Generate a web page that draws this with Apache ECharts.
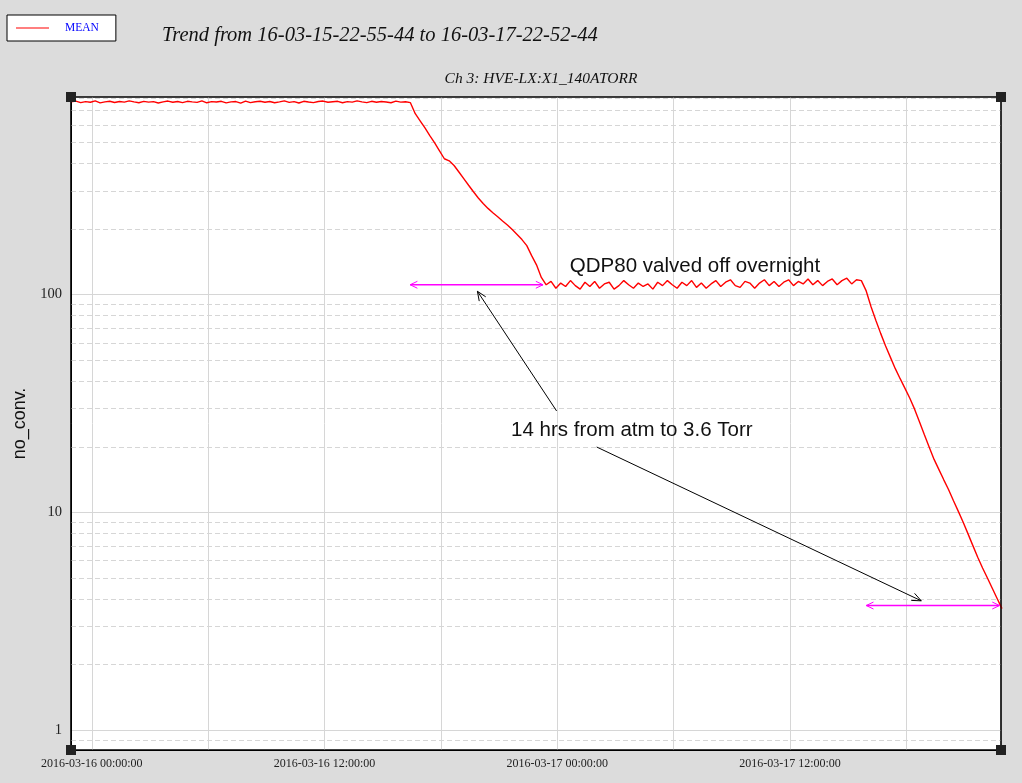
<!DOCTYPE html>
<html><head><meta charset="utf-8">
<script src="https://cdn.jsdelivr.net/npm/echarts@6/dist/echarts.min.js"></script>
<style>html,body{margin:0;padding:0;background:#dcdcdc;} #chart{width:1022px;height:783px;}</style>
</head><body><div id="chart"></div>
<script>
const titleText = 'Trend from 16-03-15-22-55-44 to 16-03-17-22-52-44';
const subtitleText = 'Ch 3: HVE-LX:X1_140ATORR';
const seriesName = 'MEAN';
const yAxisName = 'no_conv.';
const axisStart = '2016-03-15 22:55:44';
const axisEnd = '2016-03-17 22:52:44';
const sampleStart = '2016-03-15 22:55:44';
const sampleStepMinutes = 15;

// vented (atmosphere) segment
const ventedValues = [
  768, 774, 762, 770, 765, 776, 760, 768, 773, 763,
  771, 766, 777, 768, 761, 772, 766, 770, 759, 768,
  775, 765, 771, 762, 773, 768, 764, 776, 761, 770,
  767, 773, 760, 768, 771, 758, 775, 762, 769, 773,
  765, 771, 761, 768, 776, 764, 770, 759, 773, 767,
  762, 771, 775, 765, 769, 773, 761, 770, 766, 776,
  768, 762, 773, 765, 771, 767, 761, 774, 766, 769
];
// first pump-down
const pumpdownValues = [
  762, 678, 629, 583, 538, 498, 458, 421, 412, 392,
  366, 341, 318, 297, 278, 262, 249, 238, 228, 218,
  209, 199, 189, 179, 168, 151, 137, 120
];
// QDP80 valved off overnight
const valvedOffValues = [
  111, 115, 107, 113, 109, 116, 110, 106, 114, 109,
  115, 107, 112, 114, 106, 110, 116, 111, 107, 113,
  109, 112, 106, 114, 110, 116, 111, 107, 114, 110,
  116, 108, 113, 107, 112, 116, 109, 114, 117, 110,
  108, 115, 113, 107, 113, 117, 110, 115, 109, 114,
  117, 110, 115, 112, 118, 111, 116, 110, 115, 118,
  111, 116, 119, 112, 117, 116
];
// second pump-down
const secondPumpValues = [
  104, 88, 76, 66.2, 58.1, 51.5, 45.7, 41.1, 37.1, 33.4,
  29.7, 26.0, 22.7, 19.9, 17.5, 15.7, 14.1, 12.7, 11.3, 10.1,
  9.0, 7.96, 7.03, 6.21, 5.55, 4.99, 4.48, 4.02, 3.61
];

const yMin = 0.809, yMax = 809;
const yTickLabels = ['1', '10', '100'];
const minorGridValues = [0.9, 2, 3, 4, 5, 6, 7, 8, 9, 20, 30, 40, 50, 60, 70, 80, 90, 200, 300, 400, 500, 600, 700, 800];
const dashedGridTimes = ['2016-03-16 06:00:00', '2016-03-16 18:00:00', '2016-03-17 06:00:00', '2016-03-17 18:00:00'];

const annotationTexts = [
  { text: 'QDP80 valved off overnight', at: ['2016-03-17 00:39:00', 135.2] },
  { text: '14 hrs from atm to 3.6 Torr', at: ['2016-03-16 21:37:00', 23.7] }
];
const spanArrows = [
  { from: ['2016-03-16 16:25:00', 111], to: ['2016-03-16 23:16:00', 111] },
  { from: ['2016-03-17 15:56:00', 3.73], to: ['2016-03-17 22:48:00', 3.73] }
];
const pointerArrows = [
  { from: ['2016-03-16 23:58:00', 29.2], to: ['2016-03-16 19:53:00', 103.6] },
  { from: ['2016-03-17 02:02:00', 19.95], to: ['2016-03-17 18:46:00', 3.92] }
];

function t(s) { return new Date(s.replace(' ', 'T')).getTime(); }
function pad(n) { return String(n).padStart(2, '0'); }
function fmtTime(v) {
  const d = new Date(v);
  return d.getFullYear() + '-' + pad(d.getMonth() + 1) + '-' + pad(d.getDate()) + ' ' +
    pad(d.getHours()) + ':' + pad(d.getMinutes()) + ':' + pad(d.getSeconds());
}

const allValues = ventedValues.concat(pumpdownValues, valvedOffValues, secondPumpValues);
const t0 = t(sampleStart);
const seriesData = allValues.map((v, i) => [t0 + i * sampleStepMinutes * 60000, v]);

const gridColor = '#d6d6d6';
const chart = echarts.init(document.getElementById('chart'), null, { renderer: 'canvas' });

const markLineData = minorGridValues.map(v => ({ yAxis: v }))
  .concat(dashedGridTimes.map(s => ({ xAxis: t(s) })));

chart.setOption({
  animation: false,
  backgroundColor: '#dcdcdc',
  title: [
    { text: titleText, left: 157, top: 21,
      textStyle: { fontFamily: 'Liberation Serif', fontStyle: 'italic', fontWeight: 'normal', fontSize: 20.5, color: '#111' } },
    { text: subtitleText, left: 536, top: 66, textAlign: 'center',
      textStyle: { fontFamily: 'Liberation Serif', fontStyle: 'italic', fontWeight: 'normal', fontSize: 15.5, color: '#111' } }
  ],
  legend: {
    left: 7, top: 15, padding: [7, 17, 7, 9], itemWidth: 33, itemHeight: 1, icon: 'rect',
    borderColor: '#000', borderWidth: 1, backgroundColor: '#fff', selectedMode: false,
    data: [seriesName],
    textStyle: { color: '#0000ff', fontFamily: 'Liberation Serif', fontSize: 11.5, padding: [0, 0, 0, 11] }
  },
  grid: { left: 71, right: 21, top: 97, bottom: 33, show: true, backgroundColor: '#fff', borderColor: '#000', borderWidth: 1 },
  xAxis: {
    type: 'time', min: t(axisStart), max: t(axisEnd),
    minInterval: 12 * 3600 * 1000, maxInterval: 12 * 3600 * 1000,
    axisLine: { show: true, lineStyle: { color: '#000', width: 1 } },
    axisTick: { show: false },
    splitLine: { show: true, showMinLine: false, showMaxLine: false, lineStyle: { color: gridColor, width: 1 } },
    axisLabel: {
      showMinLabel: false, showMaxLabel: false, margin: 8,
      fontFamily: 'Liberation Serif', fontSize: 12, color: '#222',
      formatter: function (v) {
        const d = new Date(v);
        if (d.getMinutes() === 0 && d.getSeconds() === 0 && d.getHours() % 12 === 0) return fmtTime(v);
        return '';
      }
    }
  },
  yAxis: {
    type: 'log', logBase: 10, min: yMin, max: yMax,
    name: yAxisName, nameLocation: 'middle', nameRotate: 90, nameGap: 39,
    nameTextStyle: { fontFamily: 'Liberation Sans', fontSize: 18, color: '#111' },
    axisLine: { show: true, lineStyle: { color: '#000', width: 1 } },
    axisTick: { show: false },
    splitLine: { show: true, showMinLine: false, showMaxLine: false, lineStyle: { color: gridColor, width: 1 } },
    axisLabel: {
      showMinLabel: false, showMaxLabel: false, margin: 9,
      fontFamily: 'Liberation Serif', fontSize: 14.5, color: '#222',
      formatter: function (v) {
        const s = String(Math.round(v));
        return (yTickLabels.indexOf(s) >= 0 && Math.abs(v - Math.round(v)) < 1e-6) ? s : '';
      }
    }
  },
  series: [{
    name: seriesName, type: 'line', data: seriesData, showSymbol: false, symbol: 'none',
    lineStyle: { color: '#ff0000', width: 1.4 }, itemStyle: { color: '#ff0000' }, z: 3,
    markLine: {
      silent: true, symbol: 'none', z: 1, animation: false,
      label: { show: false },
      lineStyle: { color: gridColor, type: [5, 3], width: 1 },
      data: markLineData
    }
  }]
});

function P(pt) { return chart.convertToPixel({ gridIndex: 0 }, [t(pt[0]), pt[1]]); }
function head(tip, from, len, ang) {
  const dx = tip[0] - from[0], dy = tip[1] - from[1];
  const L = Math.sqrt(dx * dx + dy * dy);
  const ux = dx / L, uy = dy / L;
  const c = Math.cos(ang), s = Math.sin(ang);
  const a = [tip[0] - len * (ux * c - uy * s), tip[1] - len * (uy * c + ux * s)];
  const b = [tip[0] - len * (ux * c + uy * s), tip[1] - len * (uy * c - ux * s)];
  return [a, tip, b];
}
const g = [];
spanArrows.forEach(a => {
  const p1 = P(a.from), p2 = P(a.to);
  g.push({ type: 'line', z: 20, shape: { x1: p1[0], y1: p1[1], x2: p2[0], y2: p2[1] }, style: { stroke: '#ff00ff', lineWidth: 1.3 } });
  g.push({ type: 'polyline', z: 20, shape: { points: head(p1, p2, 8, 0.45) }, style: { stroke: '#ff00ff', fill: null, lineWidth: 1 } });
  g.push({ type: 'polyline', z: 20, shape: { points: head(p2, p1, 8, 0.45) }, style: { stroke: '#ff00ff', fill: null, lineWidth: 1 } });
});
pointerArrows.forEach(a => {
  const p1 = P(a.from), p2 = P(a.to);
  g.push({ type: 'line', z: 20, shape: { x1: p1[0], y1: p1[1], x2: p2[0], y2: p2[1] }, style: { stroke: '#000', lineWidth: 1 } });
  g.push({ type: 'polyline', z: 20, shape: { points: head(p2, p1, 10, 0.4) }, style: { stroke: '#000', fill: null, lineWidth: 1 } });
});
annotationTexts.forEach(a => {
  const p = P(a.at);
  g.push({ type: 'text', z: 20, x: p[0], y: p[1], style: { text: a.text, fontFamily: 'Liberation Sans', fontSize: 20.5, fill: '#111', align: 'left', verticalAlign: 'middle' } });
});
const tl = P([axisStart, yMax]), br = P([axisEnd, yMin]);
g.push({ type: 'rect', z: 25, shape: { x: tl[0], y: tl[1], width: br[0] - tl[0], height: br[1] - tl[1] }, style: { fill: null, stroke: '#000', lineWidth: 1.2 } });
const corners = [[axisStart, yMax], [axisEnd, yMax], [axisStart, yMin], [axisEnd, yMin]];
corners.forEach(c => {
  const p = P(c);
  g.push({ type: 'rect', z: 30, shape: { x: p[0] - 5, y: p[1] - 5, width: 10, height: 10 }, style: { fill: '#222' } });
});
chart.setOption({ graphic: g });
</script>
</body></html>
